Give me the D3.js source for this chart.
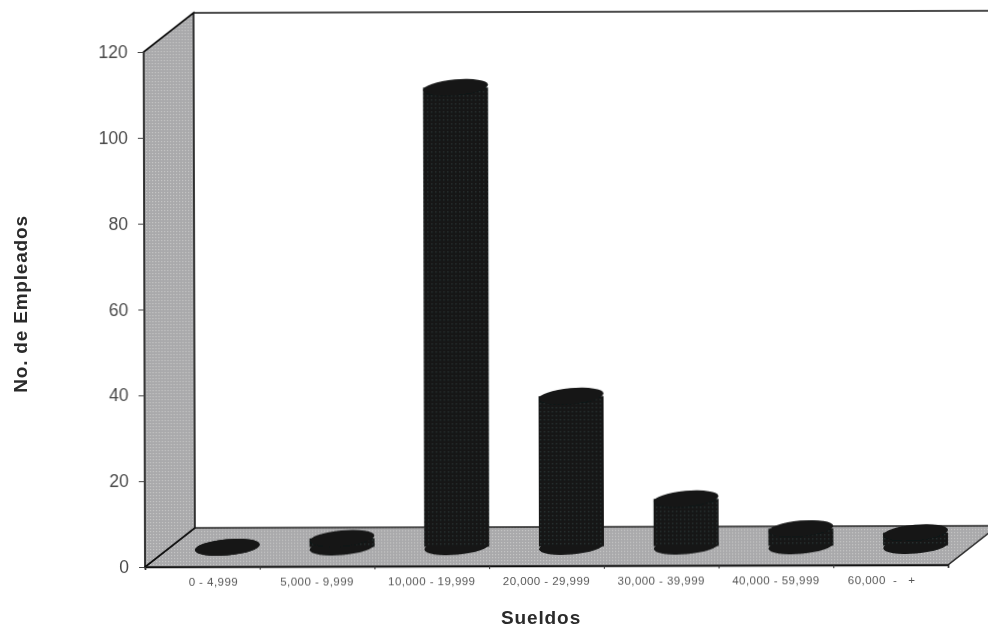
<!DOCTYPE html>
<html>
<head>
<meta charset="utf-8">
<script src="https://cdn.jsdelivr.net/npm/d3@7"></script>
<style>
body{margin:0;background:#fff;}
svg{display:block;}
text{font-family:"Liberation Sans",Arial,sans-serif;}
text.cat{white-space:pre;}
</style>
</head>
<body>
<div id="chart"></div>
<script>
var categories=["0 - 4,999","5,000 - 9,999","10,000 - 19,999","20,000 - 29,999","30,000 - 39,999","40,000 - 59,999","60,000  -   +"];
var empleados=[0,2,107,35,11,4,3];
var yTicks=[0,20,40,60,80,100,120];

var width=988,height=627;
var x0=145,x1=948,yBottom=567,yTop=52;
var depthX=50,depthY=-39; //offset of the back wall
var rx=32.5,ry=8;

var svg=d3.select("#chart").append("svg").attr("width",width).attr("height",height);
var defs=svg.append("defs");

defs.append("filter").attr("id","soft").append("feGaussianBlur").attr("stdDeviation",0.6);

//printed halftone look
var dots=defs.append("pattern").attr("id","dots").attr("width",3).attr("height",3).attr("patternUnits","userSpaceOnUse");
dots.append("rect").attr("width",3).attr("height",3).attr("fill","#a9a9ab");
dots.append("rect").attr("width",1.2).attr("height",1.2).attr("fill","#c6c6c6");

var dark=defs.append("pattern").attr("id","dark").attr("width",4).attr("height",4).attr("patternUnits","userSpaceOnUse");
dark.append("rect").attr("width",4).attr("height",4).attr("fill","#121414");
dark.append("rect").attr("width",1.5).attr("height",1.5).attr("fill","#2a2e2e");

var x=d3.scaleBand().domain(categories).range([x0,x1]);
var y=d3.scaleLinear().domain([0,120]).range([yBottom,yTop]);
var edges=d3.scaleLinear().domain([0,categories.length]).range([x0,x1]);

//scan is a little crooked, the right side sits higher
var plot=svg.append("g").attr("filter","url(#soft)")
    .attr("transform","rotate(-0.15 "+x0+" "+yBottom+")");

//floor
plot.append("polygon")
    .attr("points",[[x0,yBottom],[x0+depthX,yBottom+depthY],[x1+depthX,yBottom+depthY],[x1,yBottom]].join(" "))
    .attr("fill","url(#dots)").attr("stroke","#222").attr("stroke-width",1.5);

//left wall
plot.append("polygon")
    .attr("points",[[x0,yTop],[x0+depthX,yTop+depthY],[x0+depthX,yBottom+depthY],[x0,yBottom]].join(" "))
    .attr("fill","url(#dots)").attr("stroke","#111").attr("stroke-width",1.6);

//top of back wall
plot.append("line")
    .attr("x1",x0+depthX).attr("y1",yTop+depthY)
    .attr("x2",x1+depthX).attr("y2",yTop+depthY)
    .attr("stroke","#111").attr("stroke-width",1.6);

//cylinders
var bars=plot.selectAll("g.bar").data(categories).enter().append("g").attr("class","bar");
function cx(d){return x(d)+x.bandwidth()/2+depthX/2;}
function baseY(){return yBottom+depthY/2;}
function topY(d,i){return baseY()-(yBottom-y(empleados[i]));}

bars.append("ellipse")
    .attr("rx",rx).attr("ry",ry)
    .attr("transform",function(d){return "translate("+cx(d)+","+baseY()+") rotate(-5)";})
    .attr("fill","#141616");
bars.append("rect")
    .attr("x",function(d){return cx(d)-rx;})
    .attr("width",rx*2)
    .attr("y",topY)
    .attr("height",function(d,i){return baseY()-topY(d,i);})
    .attr("fill","url(#dark)");
bars.append("ellipse")
    .attr("rx",rx).attr("ry",ry)
    .attr("transform",function(d,i){return "translate("+cx(d)+","+topY(d,i)+") rotate(-5)";})
    .attr("fill","#121313");

//y axis
var yAxis=plot.append("g").attr("transform","translate("+x0+",0)")
    .call(d3.axisLeft(y).tickValues(yTicks).tickSize(6).tickPadding(10));
yAxis.select(".domain").remove();
yAxis.selectAll("line").attr("stroke","#444");
yAxis.selectAll("text").attr("font-size",17.5).attr("fill","#4a4a4a")
    .style("font-family",'"Liberation Sans",Arial,sans-serif');

//x axis, ticks sit between the categories
var xAxis=plot.append("g").attr("transform","translate(0,"+yBottom+")")
    .call(d3.axisBottom(edges).ticks(categories.length).tickSize(3).tickFormat(""));
xAxis.select(".domain").attr("stroke","#111").attr("stroke-width",1.6);
xAxis.selectAll("line").attr("stroke","#333");

//first and last labels are pulled toward the middle in the original
function labelNudge(i){return i==0?11:(i==categories.length-1?-9:0);}
plot.selectAll("text.cat").data(categories).enter().append("text")
    .attr("class","cat")
    .attr("x",function(d,i){return x(d)+x.bandwidth()/2+labelNudge(i);})
    .attr("y",586)
    .attr("text-anchor","middle")
    .attr("font-size",11.5)
    .attr("letter-spacing",0.45)
    .attr("fill","#555")
    .text(function(d){return d;});

//axis titles
svg.append("text")
    .attr("x",541).attr("y",624)
    .attr("text-anchor","middle")
    .attr("font-size",19).attr("font-weight","bold").attr("letter-spacing",0.9).attr("fill","#2a2a2a")
    .attr("filter","url(#soft)")
    .text("Sueldos");
svg.append("text")
    .attr("transform","translate(27,304) rotate(-90)")
    .attr("text-anchor","middle")
    .attr("font-size",19).attr("font-weight","bold").attr("letter-spacing",0.8).attr("fill","#2a2a2a")
    .attr("filter","url(#soft)")
    .text("No. de Empleados");
</script>
</body>
</html>
